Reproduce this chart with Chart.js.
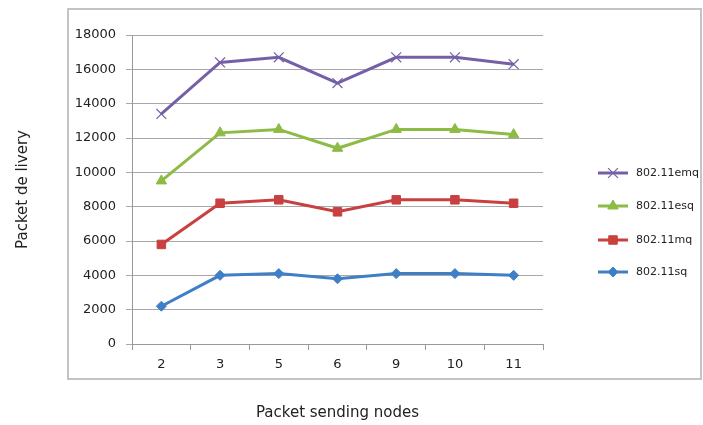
<!DOCTYPE html>
<html>
<head>
<meta charset="utf-8">
<script src="https://cdn.jsdelivr.net/npm/chart.js@4"></script>
<style>
html,body{margin:0;padding:0;background:#fff;}
#wrap{width:703px;height:425px;position:relative;}
</style>
</head>
<body>
<div id="wrap"><canvas id="c" width="703" height="425"></canvas></div>
<script>
const categories = ['2', '3', '5', '6', '9', '10', '11'];
const emq = [13400, 16400, 16700, 15200, 16700, 16700, 16300];
const esq = [9500, 12300, 12500, 11400, 12500, 12500, 12200];
const mq  = [5800, 8200, 8400, 7700, 8400, 8400, 8200];
const sq  = [2200, 4000, 4100, 3800, 4100, 4100, 4000];
const seriesNames = ['802.11emq', '802.11esq', '802.11mq', '802.11sq'];
const yTicks = [0, 2000, 4000, 6000, 8000, 10000, 12000, 14000, 16000, 18000];
const xTitle = 'Packet sending nodes';
const yTitle = 'Packet de livery';

const FONT = "'DejaVu Sans', Verdana, sans-serif";

const frame = {
  id: 'frame',
  beforeDraw(chart) {
    const ctx = chart.ctx;
    ctx.save();
    ctx.fillStyle = '#fff';
    ctx.fillRect(0, 0, chart.width, chart.height);
    ctx.strokeStyle = '#c4c4c4';
    ctx.lineWidth = 2;
    ctx.strokeRect(68, 9, 633, 370);
    ctx.restore();
  }
};

const excelLegend = {
  id: 'excelLegend',
  afterDraw(chart) {
    const ctx = chart.ctx;
    const x0 = 598, x1 = 628, tx = 636;
    const ys = [173, 206, 240, 272];
    chart.data.datasets.forEach((ds, i) => {
      const y = ys[i];
      ctx.save();
      ctx.strokeStyle = ds.borderColor;
      ctx.fillStyle = ds.borderColor;
      ctx.lineWidth = ds.borderWidth;
      ctx.beginPath(); ctx.moveTo(x0, y); ctx.lineTo(x1, y); ctx.stroke();
      ctx.lineWidth = ds.pointBorderWidth || 1;
      Chart.helpers.drawPoint(ctx, {
        pointStyle: ds.pointStyle, radius: ds.pointRadius,
        borderWidth: ds.pointBorderWidth || 1, rotation: 0
      }, (x0 + x1) / 2, y);
      ctx.restore();
      ctx.save();
      ctx.fillStyle = '#222';
      ctx.font = '11px ' + FONT;
      ctx.textBaseline = 'middle';
      ctx.fillText(ds.label, tx, y);
      ctx.restore();
    });
  }
};

function mk(label, data, color, style, r) {
  return {
    label, data,
    borderColor: color, backgroundColor: color,
    pointBackgroundColor: color, pointBorderColor: color,
    borderWidth: 3, pointStyle: style, pointRadius: r,
    pointBorderWidth: style === 'crossRot' ? 1.2 : 1,
    tension: 0
  };
}

new Chart(document.getElementById('c'), {
  type: 'line',
  data: {
    labels: categories,
    datasets: [
      mk(seriesNames[0], emq, '#7560A8', 'crossRot', 7),
      mk(seriesNames[1], esq, '#8DBB45', 'triangle', 6),
      mk(seriesNames[2], mq, '#C8403F', 'rect', 6),
      mk(seriesNames[3], sq, '#3F7FC6', 'rectRot', 5)
    ]
  },
  options: {
    responsive: false,
    animation: false,
    layout: { padding: { left: 0, right: 160, top: 35, bottom: 0 } },
    plugins: { legend: { display: false }, tooltip: { enabled: false } },
    scales: {
      x: {
        type: 'category',
        offset: true,
        grid: { display: true, drawOnChartArea: false, drawTicks: true, tickLength: 6, color: '#999', offset: true },
        border: { display: true, color: '#999', width: 1 },
        ticks: { color: '#222', font: { family: FONT, size: 13 }, padding: 7 },
        title: { display: true, text: xTitle, color: '#222', font: { family: FONT, size: 15 }, padding: { top: 24, bottom: 3 } },
        afterFit(s) { s.height = 81; }
      },
      y: {
        min: 0, max: 18000,
        afterBuildTicks(s) { s.ticks = yTicks.map(v => ({ value: v })); },
        grid: { color: '#a8a8a8', tickLength: 6, lineWidth: 1 },
        border: { display: true, color: '#999', width: 1 },
        ticks: { color: '#222', font: { family: FONT, size: 13 }, padding: 10, callback: v => String(v) },
        title: { display: true, text: yTitle, color: '#222', font: { family: FONT, size: 15 }, padding: { top: 14, bottom: 0 } },
        afterFit(s) { s.width = 132; }
      }
    }
  },
  plugins: [frame, excelLegend]
});
</script>
</body>
</html>
